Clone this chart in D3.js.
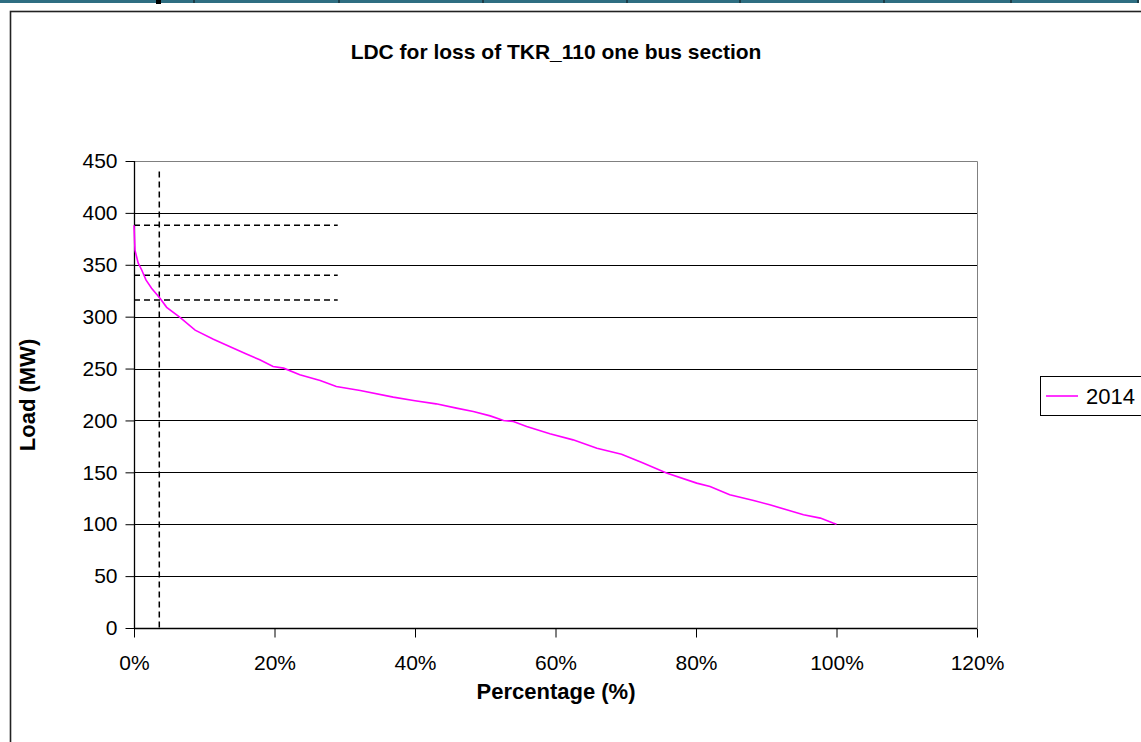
<!DOCTYPE html>
<html>
<head>
<meta charset="utf-8">
<script src="https://cdn.jsdelivr.net/npm/d3@7"></script>
<style>
	body { margin: 0; background: #fff; }
	text { font-family: "Liberation Sans", Arial, sans-serif; }
</style>
</head>
<body>
<script>
// percentage of time (x) and load in MW (y)
var pct = [0, 0.14, 0.6, 1.1, 1.7, 2.5, 3.7, 4.65, 6.5, 8.7, 11.3, 14, 16, 17.9, 19.8, 21.3, 23.6, 26.5, 28.8,
	32.2, 36.9, 40, 43, 45.9, 48.3, 50.7, 52.6, 54, 55.9, 59.2, 62.5, 65.9, 69.4, 72.3, 75.8, 80.1, 82,
	84.8, 88.2, 90.5, 92.9, 95.3, 97.7, 99.5, 100];
var load = [388, 364, 351.5, 345, 335.4, 327.4, 317.8, 309, 299.5, 287, 278.3, 270, 264, 258.4, 252, 250.4, 244, 238.5, 232.7,
	228.8, 222.5, 219, 216, 211.9, 208.6, 204.4, 200, 199, 194.1, 187.1, 181.3, 173.3, 167.5, 159.5, 149.3, 139.6, 136.4,
	128.4, 122.9, 118.7, 113.9, 109.1, 105.9, 101.1, 100];
var seriesName = "2014";

var xTicks = [0, 20, 40, 60, 80, 100, 120];
var yTicks = [0, 50, 100, 150, 200, 250, 300, 350, 400, 450];

// dashed reference lines
var refPct = 3.6, refTop = 440, refEnd = 29;
var refLoads = [388, 340, 316];

var W = 1141, H = 742;
var margin = { top: 161, left: 134 };

var svg = d3.select("body").append("svg")
	.attr("width", W)
	.attr("height", H);

// spreadsheet strip at the very top
svg.append("rect").attr("x", 0).attr("y", 0).attr("width", 1139).attr("height", 3).attr("fill", "#2e6e82");
[193, 338, 482, 626, 739, 883, 1010, 1137].forEach(function (x) {
	svg.append("rect").attr("x", x).attr("y", 0).attr("width", 2).attr("height", 3).attr("fill", "#1d3d48");
});
svg.append("rect").attr("x", 156).attr("y", 0).attr("width", 5).attr("height", 4).attr("fill", "#000");

// chart frame
svg.append("rect")
	.attr("x", 10.5).attr("y", 11.5)
	.attr("width", W + 20).attr("height", H + 20)
	.attr("fill", "#fff")
	.attr("stroke", "#222")
	.attr("stroke-width", 1.6);

var x = d3.scaleLinear().domain([0, 120]).range([0, 843]);
var y = d3.scaleLinear().domain([0, 450]).range([467, 0]);

var g = svg.append("g").attr("transform", "translate(" + margin.left + "," + margin.top + ")");

// gridlines
g.selectAll(".grid")
	.data(yTicks.filter(function (d) { return d > 0 && d < 450; }))
	.enter().append("line")
	.attr("class", "grid")
	.attr("x1", 0).attr("x2", x(120))
	.attr("y1", function (d) { return Math.round(y(d)) + 0.5; })
	.attr("y2", function (d) { return Math.round(y(d)) + 0.5; })
	.attr("stroke", "#000").attr("stroke-width", 1);

// plot area border (top, right)
g.append("path")
	.attr("d", "M0," + (Math.round(y(450)) + 0.5) + "H" + (Math.round(x(120)) + 0.5) + "V" + y(0))
	.attr("fill", "none").attr("stroke", "#808080").attr("stroke-width", 1);

// axes
var xAxis = g.append("g")
	.attr("transform", "translate(0," + (Math.round(y(0)) + 0.5) + ")")
	.call(d3.axisBottom(x).tickValues(xTicks).tickSize(9).tickPadding(18)
		.tickFormat(function (d) { return d + "%"; }));
var yAxis = g.append("g")
	.attr("transform", "translate(0.5,0)")
	.call(d3.axisLeft(y).tickValues(yTicks).tickSize(9).tickPadding(8));

[xAxis, yAxis].forEach(function (a) {
	a.select(".domain").attr("stroke", "#000").attr("stroke-width", 1.3);
	a.selectAll(".tick line").attr("stroke", "#000");
	a.selectAll("text").attr("font-size", "21px").attr("fill", "#000")
		.style("font-family", "'Liberation Sans', Arial, sans-serif");
});
xAxis.select(".domain").attr("d", "M0,0H" + x(120));
yAxis.select(".domain").attr("d", "M0," + y(0) + "V" + y(450));

// dashed reference lines
g.append("line")
	.attr("x1", x(refPct)).attr("x2", x(refPct))
	.attr("y1", y(refTop)).attr("y2", y(0))
	.attr("stroke", "#000").attr("stroke-width", 1.5).attr("stroke-dasharray", "6,4");
g.selectAll(".ref")
	.data(refLoads)
	.enter().append("line")
	.attr("class", "ref")
	.attr("x1", 0).attr("x2", x(refEnd))
	.attr("y1", function (d) { return y(d); })
	.attr("y2", function (d) { return y(d); })
	.attr("stroke", "#000").attr("stroke-width", 1.5).attr("stroke-dasharray", "6,4");

// the load duration curve
var line = d3.line()
	.x(function (d, i) { return x(pct[i]); })
	.y(function (d) { return y(d); });
g.append("path")
	.datum(load)
	.attr("d", line)
	.attr("fill", "none")
	.attr("stroke", "#ff00ff")
	.attr("stroke-width", 1.6);

// title and axis labels
svg.append("text")
	.attr("x", 556).attr("y", 59)
	.attr("text-anchor", "middle")
	.attr("font-size", "21px").attr("font-weight", "bold")
	.text("LDC for loss of TKR_110 one bus section");
svg.append("text")
	.attr("x", 556).attr("y", 699)
	.attr("text-anchor", "middle")
	.attr("font-size", "22px").attr("font-weight", "bold")
	.text("Percentage (%)");
svg.append("text")
	.attr("transform", "translate(35,395) rotate(-90)")
	.attr("text-anchor", "middle")
	.attr("font-size", "22px").attr("font-weight", "bold")
	.text("Load (MW)");

// legend
var lg = svg.append("g");
lg.append("rect")
	.attr("x", 1040.5).attr("y", 376.5)
	.attr("width", 120).attr("height", 39)
	.attr("fill", "#fff").attr("stroke", "#000").attr("stroke-width", 1);
lg.append("line")
	.attr("x1", 1046).attr("x2", 1078)
	.attr("y1", 396).attr("y2", 396)
	.attr("stroke", "#ff00ff").attr("stroke-width", 1.6);
lg.append("text")
	.attr("x", 1086).attr("y", 404)
	.attr("font-size", "22px")
	.text(seriesName);
</script>
</body>
</html>
